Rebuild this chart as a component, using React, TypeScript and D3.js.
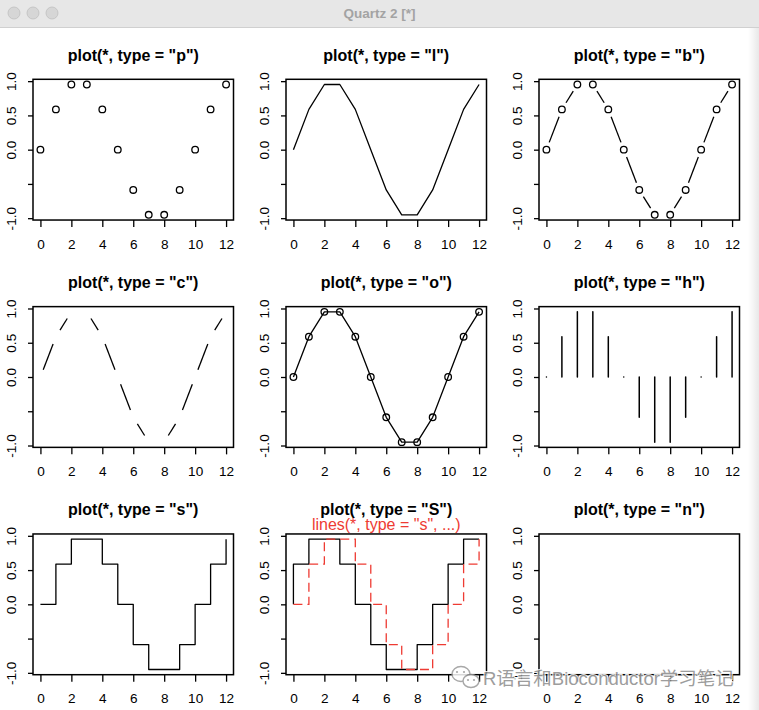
import React from "react";
import * as d3 from "d3";

const xValues = [0, 1, 2, 3, 4, 5, 6, 7, 8, 9, 10, 11, 12];
const yValues = [0, 0.588, 0.951, 0.951, 0.588, 0, -0.588, -0.951, -0.951, -0.588, 0, 0.588, 0.951];
const plotTypes = ["p", "l", "b", "c", "o", "h", "s", "S", "n"];
const xTicks = [0, 2, 4, 6, 8, 10, 12];
const yTicks = [-1, -0.5, 0, 0.5, 1];
const yTickLabels = ["-1.0", "", "0.0", "0.5", "1.0"];
const overlayLabel = 'lines(*, type = "s", ...)';
const windowTitle = "Quartz 2 [*]";
const watermarkText = "R语言和Bioconductor学习笔记";

const W = 759;
const H = 710;
const barH = 28;
const colW = W / 3;
const rowH = (H - barH) / 3;
const margin = { top: 51.3, right: 19.5, bottom: 35.3, left: 33 };
const plotW = colW - margin.left - margin.right;
const plotH = rowH - margin.top - margin.bottom;
const font = "'Liberation Sans', Arial, Helvetica, sans-serif";
const red = "#ee3b33";

type Pt = [number, number];

const App: React.FC = () => {
  const svgRef = React.useRef<SVGSVGElement>(null);

  React.useEffect(() => {
    if (!svgRef.current) return;
    const svg = d3.select(svgRef.current);
    svg.selectAll("*").remove();

    svg.append("rect").attr("width", W).attr("height", H).attr("fill", "#fff");

    // window chrome
    svg.append("rect").attr("width", W).attr("height", barH).attr("fill", "#e7e7e7");
    svg.append("line")
      .attr("x1", 0).attr("x2", W).attr("y1", barH - 0.5).attr("y2", barH - 0.5)
      .attr("stroke", "#d0d0d0");
    [14, 33, 52].forEach(cx => {
      svg.append("circle")
        .attr("cx", cx).attr("cy", 13).attr("r", 6)
        .attr("fill", "#d6d6d6").attr("stroke", "#bfbfbf").attr("stroke-width", 0.8);
    });
    svg.append("text")
      .attr("x", W / 2).attr("y", 18)
      .attr("text-anchor", "middle")
      .style("font-family", font).style("font-weight", "bold").style("font-size", "13.5px")
      .attr("fill", "#a3a3a3")
      .text(windowTitle);

    const defs = svg.append("defs");
    const grad = defs.append("linearGradient").attr("id", "edge").attr("x1", "0").attr("x2", "1");
    grad.append("stop").attr("offset", "0").attr("stop-color", "#000").attr("stop-opacity", 0);
    grad.append("stop").attr("offset", "1").attr("stop-color", "#000").attr("stop-opacity", 0.09);

    const [xmin, xmax] = d3.extent(xValues) as [number, number];
    const [ymin, ymax] = d3.extent(yValues) as [number, number];
    const xPad = (xmax - xmin) * 0.04;
    const yPad = (ymax - ymin) * 0.04;
    const pts: Pt[] = xValues.map((v, i) => [v, yValues[i]]);

    plotTypes.forEach((type, i) => {
      const col = i % 3;
      const row = Math.floor(i / 3);
      const left = col * colW + margin.left;
      const top = barH + row * rowH + margin.top;
      const x = d3.scaleLinear().domain([xmin - xPad, xmax + xPad]).range([left, left + plotW]);
      const y = d3.scaleLinear().domain([ymin - yPad, ymax + yPad]).range([top + plotH, top]);
      const g = svg.append("g");

      const line = d3.line<Pt>().x(d => x(d[0])).y(d => y(d[1]));

      const drawCircles = () => {
        g.selectAll(null)
          .data(pts)
          .enter()
          .append("circle")
          .attr("cx", d => x(d[0]))
          .attr("cy", d => y(d[1]))
          .attr("r", 3.3)
          .attr("fill", "none")
          .attr("stroke", "#000")
          .attr("stroke-width", 1.3);
      };

      // segments with a gap round each point (types b and c)
      const drawGapped = (gap: number) => {
        for (let k = 0; k < pts.length - 1; k++) {
          const x1 = x(pts[k][0]), y1 = y(pts[k][1]);
          const x2 = x(pts[k + 1][0]), y2 = y(pts[k + 1][1]);
          const len = Math.hypot(x2 - x1, y2 - y1);
          if (len <= 2 * gap) continue;
          const ux = (x2 - x1) / len, uy = (y2 - y1) / len;
          g.append("line")
            .attr("x1", x1 + ux * gap).attr("y1", y1 + uy * gap)
            .attr("x2", x2 - ux * gap).attr("y2", y2 - uy * gap)
            .attr("stroke", "#000").attr("stroke-width", 1.3);
        }
      };

      const pathStyle = (p: d3.Selection<SVGPathElement, Pt[], null, undefined>) =>
        p.attr("fill", "none").attr("stroke", "#000").attr("stroke-width", 1.3)
          .attr("stroke-linejoin", "round");

      if (type === "p") drawCircles();
      if (type === "l") g.append("path").datum(pts).attr("d", line).call(pathStyle);
      if (type === "b") { drawGapped(7.8); drawCircles(); }
      if (type === "c") drawGapped(7.8);
      if (type === "o") { g.append("path").datum(pts).attr("d", line).call(pathStyle); drawCircles(); }
      if (type === "h") {
        g.selectAll(null)
          .data(pts)
          .enter()
          .append("line")
          .attr("x1", d => x(d[0])).attr("x2", d => x(d[0]))
          .attr("y1", y(0)).attr("y2", d => y(d[1]))
          .attr("stroke", "#000").attr("stroke-width", 1.5)
          .attr("stroke-linecap", "round");
      }
      if (type === "s") {
        g.append("path").datum(pts).attr("d", line.curve(d3.curveStepAfter)).call(pathStyle);
      }
      if (type === "S") {
        g.append("path").datum(pts).attr("d", line.curve(d3.curveStepBefore)).call(pathStyle);
        g.append("path").datum(pts)
          .attr("d", d3.line<Pt>().x(d => x(d[0])).y(d => y(d[1])).curve(d3.curveStepAfter))
          .attr("fill", "none").attr("stroke", red).attr("stroke-width", 1.3)
          .attr("stroke-dasharray", "9,5");
      }

      // box
      g.append("rect")
        .attr("x", left).attr("y", top).attr("width", plotW).attr("height", plotH)
        .attr("fill", "none").attr("stroke", "#000").attr("stroke-width", 1.5);

      // x axis
      const xa = g.append("g")
        .attr("transform", `translate(0,${top + plotH})`)
        .call(d3.axisBottom(x).tickValues(xTicks).tickSize(7).tickPadding(12).tickFormat(d3.format("d")));
      xa.select(".domain").remove();
      xa.selectAll("line").attr("stroke", "#000").attr("stroke-width", 1.3);
      xa.selectAll("text")
        .attr("fill", "#000")
        .style("font-family", font).style("font-size", "13.6px");

      // y axis, labels rotated
      const ya = g.append("g")
        .attr("transform", `translate(${left},0)`)
        .call(d3.axisLeft(y).tickValues(yTicks).tickSize(5).tickFormat((_, j) => yTickLabels[j]));
      ya.select(".domain").remove();
      ya.selectAll("line").attr("stroke", "#000").attr("stroke-width", 1.3);
      ya.selectAll("text")
        .attr("transform", "rotate(-90)")
        .attr("x", 0).attr("y", -16.6).attr("dy", null)
        .attr("text-anchor", "middle")
        .attr("fill", "#000")
        .style("font-family", font).style("font-size", "13.6px");

      // title
      g.append("text")
        .attr("x", left + plotW / 2).attr("y", barH + row * rowH + 32.5)
        .attr("text-anchor", "middle")
        .style("font-family", font).style("font-weight", "bold").style("font-size", "16px")
        .attr("fill", "#000")
        .text(`plot(*, type = "${type}")`);
      if (type === "S") {
        g.append("text")
          .attr("x", left + plotW / 2).attr("y", barH + row * rowH + 47)
          .attr("text-anchor", "middle")
          .style("font-family", font).style("font-size", "16px")
          .attr("fill", red)
          .text(overlayLabel);
      }
    });

    // right window edge
    svg.append("rect").attr("x", W - 11).attr("y", barH).attr("width", 11).attr("height", H - barH)
      .attr("fill", "url(#edge)");

    // watermark
    const wm = svg.append("g").attr("opacity", 0.85);
    wm.append("ellipse").attr("cx", 461).attr("cy", 674).attr("rx", 9).attr("ry", 7.5)
      .attr("fill", "#fff").attr("stroke", "#999").attr("stroke-width", 1.4);
    wm.append("ellipse").attr("cx", 471).attr("cy", 681).attr("rx", 8).attr("ry", 6.5)
      .attr("fill", "#fff").attr("stroke", "#999").attr("stroke-width", 1.4);
    [[457, 672], [464, 672], [468, 680], [474, 680]].forEach(([cx, cy]) => {
      wm.append("circle").attr("cx", cx).attr("cy", cy).attr("r", 1.1).attr("fill", "#999");
    });
    wm.append("text")
      .attr("x", 483).attr("y", 685)
      .style("font-family", "'Liberation Sans', 'Noto Sans CJK SC', sans-serif")
      .style("font-size", "18.5px")
      .attr("fill", "#8c8c8c")
      .attr("stroke", "#fff").attr("stroke-width", 2).attr("paint-order", "stroke")
      .text(watermarkText);
  }, []);

  return (
    <svg
      ref={svgRef}
      width={W}
      height={H}
      style={{ position: "absolute", left: 0, top: 0, display: "block" }}
    />
  );
};

export default App;
